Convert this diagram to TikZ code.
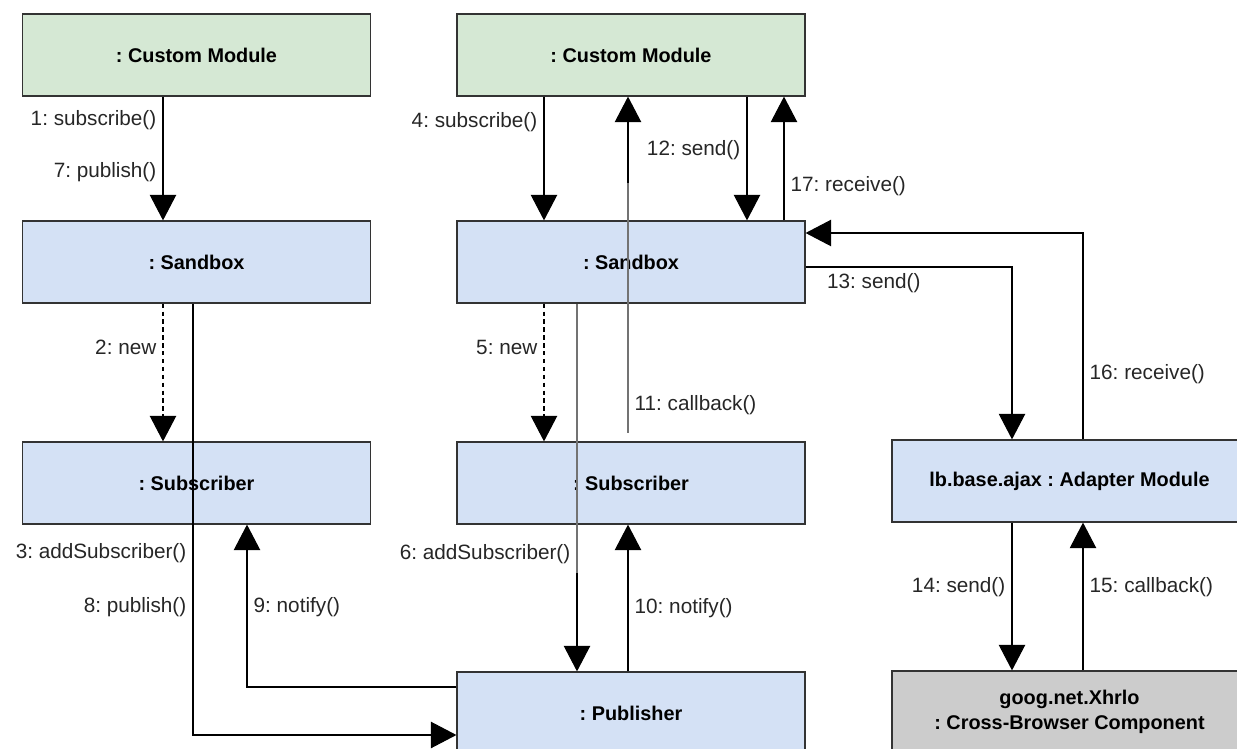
\documentclass[tikz,border=0pt]{standalone}
\usepackage{fontspec}
\setmainfont{Liberation Sans}
\usetikzlibrary{arrows.meta,positioning}
\definecolor{modgreen}{RGB}{213,232,212}
\definecolor{objblue}{RGB}{212,225,245}
\definecolor{compgray}{RGB}{204,204,204}
\frenchspacing
\tikzset{>={Triangle[width=15pt,length=14.5pt]}}
\tikzset{object/.style={draw=black!80,line width=0.7pt,fill=objblue,minimum width=6.96cm,minimum height=1.64cm,inner sep=0pt,font=\fontsize{11.3}{14}\selectfont\bfseries}}
\tikzset{module/.style={object,fill=modgreen}}
\tikzset{adapter/.style={object,minimum width=7.1cm}}
\tikzset{component/.style={adapter,fill=compgray,align=center}}
\tikzset{message/.style={->,line width=0.6pt}}
\tikzset{creates/.style={message,dash pattern=on 2.5pt off 2pt}}
\tikzset{faint/.style={line width=0.6pt,black!55}}
\tikzset{lbl/.style={font=\fontsize{11.8}{14}\selectfont,text=black!85,inner sep=3.5pt}}

\begin{document}
\begin{tikzpicture}[x=0.02cm,y=-0.02cm]
	\useasboundingbox (0,0) rectangle (1237,749);
	\clip (0,0) rectangle (1237,749);
	% objects
	\node[module] (cm1) at (196.5,55) {: Custom Module};
	\node[object] (sb1) at (196.5,262) {: Sandbox};
	\node[object] (sub1) at (196.5,483) {: Subscriber};
	\node[module] (cm2) at (631,55) {: Custom Module};
	\node[object] (sb2) at (631,262) {: Sandbox};
	\node[object] (sub2) at (631,483) {: Subscriber};
	\node[object] (pub) at (631,713) {: Publisher};
	\node[adapter] (ada) at (1069.5,481) {lb.base.ajax : Adapter Module};
	\node[component] (xhr) at (1069.5,712) {goog.net.Xhrlo\\: Cross-Browser Component};
	% columns and bends of the messages
	\coordinate (c1) at (163,0);
	\coordinate (c4) at (544,0);
	\coordinate (g6) at (577,573);
	\coordinate (cb) at (628,433);
	\coordinate (g11) at (628,183);
	\coordinate (c12) at (747,0);
	\coordinate (c17) at (784,0);
	\coordinate (k8) at (193,735);
	\coordinate (k9) at (247,687);
	\coordinate (k13) at (1012,267);
	\coordinate (k16) at (1083,233);
	% left group
	\draw[message] (cm1.south -| c1) -- node[lbl,left,pos=.19] {1: subscribe()} node[lbl,left,pos=.61] {7: publish()} (sb1.north -| c1);
	\draw[creates] (sb1.south -| c1) -- node[lbl,left,pos=.32] {2: new} (sub1.north -| c1);
	\draw[message] (sb1.south -| k8) |- node[lbl,left,pos=.289] {3: addSubscriber()} node[lbl,left,pos=.352] {8: publish()} (pub.west |- k8);
	\draw[message] (pub.west |- k9) -| node[lbl,right,pos=.745] {9: notify()} (sub1.south -| k9);
	% middle group
	\draw[message] (cm2.south -| c4) -- node[lbl,left,pos=.21] {4: subscribe()} (sb2.north -| c4);
	\draw[creates] (sb2.south -| c4) -- node[lbl,left,pos=.32] {5: new} (sub2.north -| c4);
	\draw[faint] (sb2.south -| g6) -- node[lbl,left,pos=.93] {6: addSubscriber()} (g6);
	\draw[message] (g6) -- (pub.north -| g6);
	\draw[message] (pub.north -| cb) -- node[lbl,right,pos=.43] {10: notify()} (sub2.south -| cb);
	\draw[faint] (cb) -- node[lbl,right,pos=.11] {11: callback()} (g11);
	\draw[message] (g11) -- (cm2.south -| g11);
	\draw[message] (cm2.south -| c12) -- node[lbl,left,pos=.43] {12: send()} (sb2.north -| c12);
	\draw[message] (sb2.north -| c17) -- node[lbl,right,pos=.28] {17: receive()} (cm2.south -| c17);
	% right group
	\draw[message] (sb2.east |- k13) -| node[lbl,below right,pos=.036] {13: send()} (ada.north -| k13);
	\draw[message] (ada.north -| k16) |- node[lbl,right,pos=.157] {16: receive()} (sb2.east |- k16);
	\draw[message] (ada.south -| k13) -- node[lbl,left,pos=.44] {14: send()} (xhr.north -| k13);
	\draw[message] (xhr.north -| k16) -- node[lbl,right,pos=.56] {15: callback()} (ada.south -| k16);
\end{tikzpicture}
\end{document}
